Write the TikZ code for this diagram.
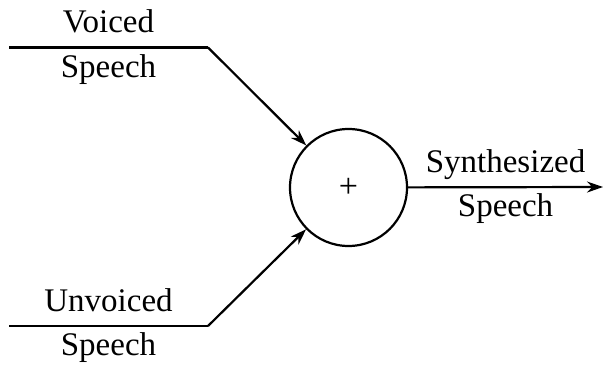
\documentclass[tikz,border=0pt]{standalone}
\usepackage{fontspec}
\setmainfont{Liberation Serif}
\usetikzlibrary{arrows.meta, positioning}

\begin{document}
\begin{tikzpicture}[
  x=0.5pt, y=0.5pt,
  adder/.style = {circle, draw, line width=1.1pt, minimum size=58.5pt, inner sep=0pt,
                  font=\fontsize{17}{20}\selectfont},
  arrow/.style = {-{Stealth[length=8pt, width=5.5pt]}, line width=1.1pt},
  line/.style  = {line width=1.1pt},
  label/.style = {font=\fontsize{16.5}{19}\selectfont, text height=11pt, text depth=3.5pt,
                  inner sep=3.3pt}
]
\useasboundingbox (0,0) rectangle (605,370);

\node[adder] (sum) at (348.5,182.5) {+};

\coordinate (vin)   at (9,322.5);
\coordinate (vbend) at (208,322.5);
\coordinate (uin)   at (9,44);
\coordinate (ubend) at (208,44);
\coordinate (out)   at (603,183);

\draw[line]  (vin) -- node[label, above] (vtop) {Voiced} node[label, below] (vbot) {Speech} (vbend);
\draw[arrow] (vbend) -- (sum);
\draw[line]  (uin) -- node[label, above] (utop) {Unvoiced} node[label, below] (ubot) {Speech} (ubend);
\draw[arrow] (ubend) -- (sum);
\draw[arrow] (sum) -- node[label, above] (stop) {Synthesized} node[label, below] (sbot) {Speech} (out);

\end{tikzpicture}
\end{document}
